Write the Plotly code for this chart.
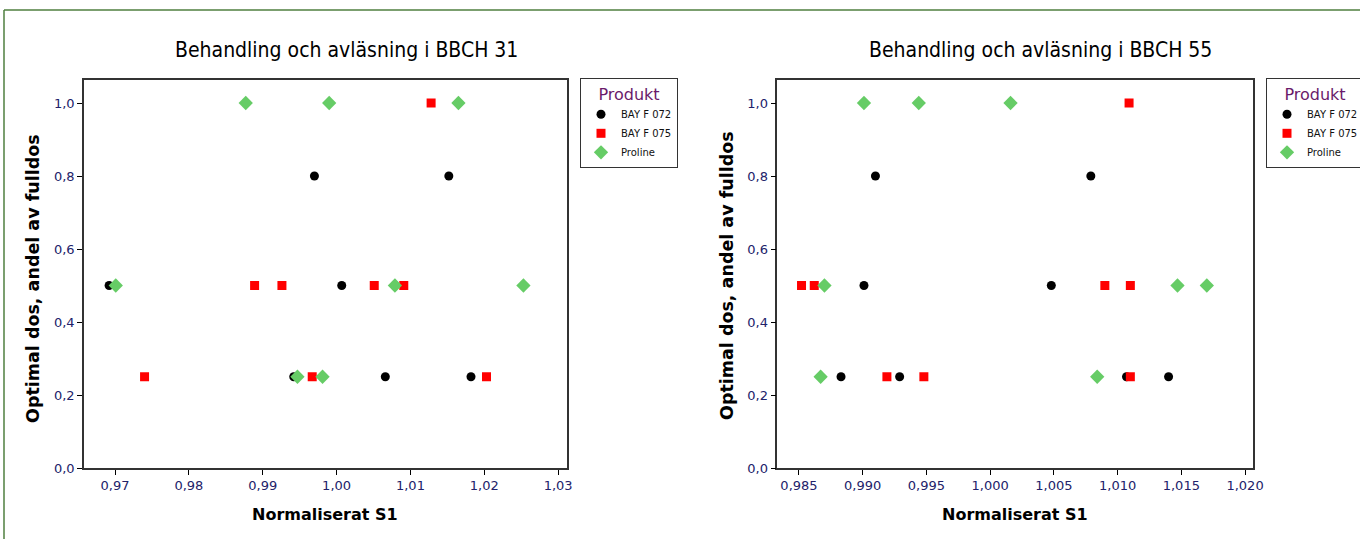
import plotly.graph_objects as go

# ---------------- data ----------------
products = ["BAY F 072", "BAY F 075", "Proline"]

# Left panel: Behandling och avläsning i BBCH 31
bbch31_bay072_x = [0.9692, 0.9970, 1.0152, 1.0007, 0.9942, 1.0066, 1.0182]
bbch31_bay072_y = [0.5, 0.8, 0.8, 0.5, 0.25, 0.25, 0.25]
bbch31_bay075_x = [1.0128, 0.9889, 0.9926, 1.0051, 1.0091, 0.9740, 0.9967, 1.0203]
bbch31_bay075_y = [1.0, 0.5, 0.5, 0.5, 0.5, 0.25, 0.25, 0.25]
bbch31_proline_x = [0.9877, 0.9990, 1.0165, 0.9701, 1.0079, 1.0253, 0.9947, 0.9981]
bbch31_proline_y = [1.0, 1.0, 1.0, 0.5, 0.5, 0.5, 0.25, 0.25]

# Right panel: Behandling och avläsning i BBCH 55
bbch55_bay072_x = [0.9910, 1.0079, 0.9901, 1.0048, 0.9883, 0.9929, 1.0107, 1.0140]
bbch55_bay072_y = [0.8, 0.8, 0.5, 0.5, 0.25, 0.25, 0.25, 0.25]
bbch55_bay075_x = [1.0109, 0.9852, 0.9862, 1.0090, 1.0110, 0.9919, 0.9948, 1.0110]
bbch55_bay075_y = [1.0, 0.5, 0.5, 0.5, 0.5, 0.25, 0.25, 0.25]
bbch55_proline_x = [0.9901, 0.9944, 1.0016, 0.9870, 1.0147, 1.0170, 0.9867, 1.0084]
bbch55_proline_y = [1.0, 1.0, 1.0, 0.5, 0.5, 0.5, 0.25, 0.25]

titles = ["Behandling och avläsning i BBCH 31", "Behandling och avläsning i BBCH 55"]
x_title = "Normaliserat S1"
y_title = "Optimal dos, andel av fulldos"
legend_title = "Produkt"

left_xticks = [0.97, 0.98, 0.99, 1.00, 1.01, 1.02, 1.03]
right_xticks = [0.985, 0.990, 0.995, 1.000, 1.005, 1.010, 1.015, 1.020]
yticks = [0.0, 0.2, 0.4, 0.6, 0.8, 1.0]

# ---------------- styling ----------------
W, H = 1360, 539
colors = {"BAY F 072": "#000000", "BAY F 075": "#ff0000", "Proline": "#66cc66"}
symbols = {"BAY F 072": "circle", "BAY F 075": "square", "Proline": "diamond"}
sizes = {"BAY F 072": 9, "BAY F 075": 9, "Proline": 11}
tick_color = "#22226a"


def px_x(p):
    return p / W


def px_y(p):
    return 1 - p / H


fig = go.Figure()

left = [(bbch31_bay072_x, bbch31_bay072_y), (bbch31_bay075_x, bbch31_bay075_y),
        (bbch31_proline_x, bbch31_proline_y)]
right = [(bbch55_bay072_x, bbch55_bay072_y), (bbch55_bay075_x, bbch55_bay075_y),
         (bbch55_proline_x, bbch55_proline_y)]

for (xs, ys), name in zip(left, products):
    fig.add_trace(go.Scatter(
        x=xs, y=ys, mode="markers", name=name, xaxis="x", yaxis="y", legend="legend",
        marker=dict(color=colors[name], symbol=symbols[name], size=sizes[name],
                    line=dict(width=0))))
for (xs, ys), name in zip(right, products):
    fig.add_trace(go.Scatter(
        x=xs, y=ys, mode="markers", name=name, xaxis="x2", yaxis="y2", legend="legend2",
        marker=dict(color=colors[name], symbol=symbols[name], size=sizes[name],
                    line=dict(width=0))))

axis_common = dict(showline=True, linecolor="#333333", linewidth=1.5, mirror=True,
                   ticks="outside", ticklen=5, tickcolor="#000000", tickwidth=1,
                   showgrid=False, zeroline=False, automargin=False,
                   tickfont=dict(family="DejaVu Sans", size=13, color=tick_color))

ydom = [px_y(468), px_y(80)]
fig.update_layout(
    width=W, height=H,
    margin=dict(l=0, r=0, t=0, b=0, autoexpand=False),
    paper_bgcolor="white", plot_bgcolor="white",
    separators=", ",
    showlegend=True,
    xaxis=dict(domain=[px_x(84), px_x(567)], range=[0.9658, 1.0312], anchor="y",
               tickvals=left_xticks, tickformat=".2f", **axis_common),
    yaxis=dict(domain=ydom, range=[0, 1.063], anchor="x",
               tickvals=yticks, tickformat=".1f", **axis_common),
    xaxis2=dict(domain=[px_x(777.3), px_x(1252.7)], range=[0.9833, 1.0206], anchor="y2",
                tickvals=right_xticks, tickformat=".3f", **axis_common),
    yaxis2=dict(domain=ydom, range=[0, 1.063], anchor="x2",
                tickvals=yticks, tickformat=".1f", **axis_common),
)

legend_common = dict(
    yanchor="top", xanchor="left", bgcolor="white", bordercolor="#333333", borderwidth=1,
    font=dict(family="DejaVu Sans", size=10, color="#111111"),
    title=dict(text=legend_title, side="top center",
               font=dict(family="DejaVu Sans", size=16, color="#6a1a6a")),
    tracegroupgap=0, itemclick=False,
)
fig.update_layout(
    legend=dict(x=px_x(580), y=px_y(78), **legend_common),
    legend2=dict(x=px_x(1266), y=px_y(78), **legend_common),
)

annotations = []
for title, cx in zip(titles, [346.5, 1040]):
    annotations.append(dict(text=title, x=px_x(cx), y=px_y(50), xref="paper", yref="paper",
                            showarrow=False, xanchor="center", yanchor="middle",
                            font=dict(family="DejaVu Sans Condensed, DejaVu Sans", size=21,
                                      color="#000000")))
for cx in [325, 1015]:
    annotations.append(dict(text=x_title, x=px_x(cx), y=px_y(514), xref="paper", yref="paper",
                            showarrow=False, xanchor="center", yanchor="middle",
                            font=dict(family="DejaVu Sans", size=16, color="#000000",
                                      weight="bold")))
for cx, cy in [(33, 279), (727, 276)]:
    annotations.append(dict(text=y_title, x=px_x(cx), y=px_y(cy), xref="paper", yref="paper",
                            showarrow=False, xanchor="center", yanchor="middle", textangle=-90,
                            font=dict(family="DejaVu Sans", size=17.5, color="#000000",
                                      weight="bold")))
fig.update_layout(annotations=annotations)

# outer frame of the original worksheet/graph window
fig.add_shape(type="line", xref="paper", yref="paper", x0=px_x(4), x1=1, y0=px_y(10), y1=px_y(10),
              line=dict(color="#4f7f3f", width=1.5))
fig.add_shape(type="line", xref="paper", yref="paper", x0=px_x(4), x1=px_x(4), y0=px_y(10), y1=0,
              line=dict(color="#4f7f3f", width=1.5))

fig.write_html("out.html", config={"displayModeBar": False},
               post_script="document.body.style.margin='0';document.body.style.overflow='hidden';")
